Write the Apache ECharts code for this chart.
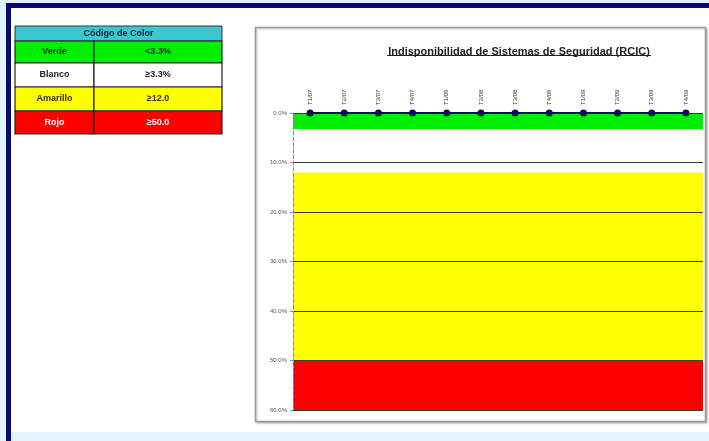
<!DOCTYPE html>
<html>
<head>
<meta charset="utf-8">
<script src="https://cdn.jsdelivr.net/npm/echarts@6/dist/echarts.min.js"></script>
<style>
  html, body { margin: 0; padding: 0; background: #e4f3fb; }
  #chart { width: 709px; height: 441px; }
</style>
</head>
<body>
<div id="chart"></div>
<script>
// Quarters on the horizontal axis
const quarters = ['T1/07', 'T2/07', 'T3/07', 'T4/07', 'T1/08', 'T2/08',
                  'T3/08', 'T4/08', 'T1/09', 'T2/09', 'T3/09', 'T4/09'];
// Unavailability per quarter (%)
const unavailability = [0, 0, 0, 0, 0, 0, 0, 0, 0, 0, 0, 0];
// Colour-code zones (%): names, limits, lower and upper bounds
const zoneNames = ['Verde', 'Blanco', 'Amarillo', 'Rojo'];
const zoneLimits = ['<3.3%', '\u22653.3%', '\u226512.0', '\u226550.0'];
const zoneFrom = [0, 3.3, 12, 50];
const zoneTo = [3.3, 12, 50, 60];
// Y-axis range and step (%)
const yMin = 0, yMax = 60, yStep = 10;

const zoneFill = ['#00ee00', '#ffffff', '#ffff00', '#ff0000'];
const zoneText = ['#1a3a1a', '#222222', '#3a3000', '#ffffff'];
const FONT = '"Liberation Sans Narrow", "Arial Narrow", "Liberation Sans", Arial, sans-serif';

const chart = echarts.init(document.getElementById('chart'));

// Colour-code table at the top left
const tbl = { x: 15, w: 207, split: 94 };
const rowTops = [41, 63, 87, 111];
const rowHeights = [22, 24, 24, 23];
const tableGraphics = [
  { type: 'rect', shape: { x: tbl.x, y: 26, width: tbl.w, height: 15 },
    style: { fill: '#3cc6cf', stroke: '#333', lineWidth: 1 } },
  { type: 'text', x: tbl.x + tbl.w / 2, y: 33.5,
    style: { text: 'Código de Color', fill: '#123', font: 'bold 9px ' + FONT,
             align: 'center', verticalAlign: 'middle' } }
];
zoneNames.forEach((name, i) => {
  const h = rowHeights[i];
  tableGraphics.push(
    { type: 'rect', shape: { x: tbl.x, y: rowTops[i], width: tbl.split - tbl.x, height: h },
      style: { fill: zoneFill[i], stroke: '#222', lineWidth: 1.2 } },
    { type: 'rect', shape: { x: tbl.split, y: rowTops[i], width: tbl.x + tbl.w - tbl.split, height: h },
      style: { fill: zoneFill[i], stroke: '#222', lineWidth: 1.2 } },
    { type: 'text', x: (tbl.x + tbl.split) / 2, y: rowTops[i] + h / 2,
      style: { text: name, fill: zoneText[i], font: 'bold 9px ' + FONT,
               align: 'center', verticalAlign: 'middle' } },
    { type: 'text', x: (tbl.split + tbl.x + tbl.w) / 2, y: rowTops[i] + h / 2,
      style: { text: zoneLimits[i], fill: zoneText[i], font: 'bold 9px ' + FONT,
               align: 'center', verticalAlign: 'middle' } }
  );
});

const option = {
  backgroundColor: 'transparent',
  animation: false,
  graphic: [
    // white page with a navy frame on the left and top
    { type: 'rect', z: -10, shape: { x: 6, y: 3, width: 710, height: 429 },
      style: { fill: '#ffffff' } },
    { type: 'rect', z: -9, shape: { x: 6, y: 3, width: 5, height: 440 },
      style: { fill: '#0a0a6e' } },
    { type: 'rect', z: -9, shape: { x: 6, y: 3, width: 710, height: 5 },
      style: { fill: '#0a0a6e' } },
    // chart panel border
    { type: 'rect', z: -8, shape: { x: 255.5, y: 27.5, width: 450, height: 394 },
      style: { fill: '#ffffff', stroke: '#9a9a9a', lineWidth: 1.5,
               shadowColor: 'rgba(0,0,0,0.25)', shadowBlur: 2, shadowOffsetX: 1, shadowOffsetY: 1 } },
    // title underline
    { type: 'line', shape: { x1: 387, y1: 55.5, x2: 651, y2: 55.5 },
      style: { stroke: '#222', lineWidth: 1 } }
  ].concat(tableGraphics),
  title: {
    text: 'Indisponibilidad de Sistemas de Seguridad (RCIC)',
    left: 514, top: 41, textAlign: 'center',
    textStyle: { fontFamily: FONT, fontWeight: 'bold', fontSize: 11, color: '#222' }
  },
  grid: { left: 293, right: 6, top: 113, bottom: 31 },
  xAxis: {
    type: 'category',
    position: 'top',
    data: quarters,
    boundaryGap: true,
    axisLine: { show: false },
    axisTick: { show: false },
    axisLabel: { rotate: 90, fontSize: 6, color: '#333', margin: 8, fontFamily: FONT },
    splitLine: { show: false }
  },
  yAxis: {
    type: 'value',
    inverse: true,
    min: yMin, max: yMax, interval: yStep,
    z: 4,
    axisLine: { show: true, lineStyle: { color: '#8a8a9a', type: 'dashed', width: 1 } },
    axisTick: { show: true, length: 3, lineStyle: { color: '#8a8a9a' } },
    axisLabel: { fontSize: 6, color: '#555', margin: 6, fontFamily: FONT,
                 formatter: v => v.toFixed(1) + '%' },
    splitLine: { show: true, lineStyle: { color: '#3a3a2a', width: 1 } }
  },
  series: [
    {
      type: 'line',
      z: 1,
      data: [],
      silent: true,
      markArea: {
        silent: true,
        z: 1,
        data: zoneFrom.map((from, i) => [
          { yAxis: from, itemStyle: { color: zoneFill[i], opacity: 1 } },
          { yAxis: zoneTo[i] }
        ])
      }
    },
    {
      type: 'line',
      z: 6,
      data: unavailability,
      symbol: 'circle',
      symbolSize: 7,
      lineStyle: { color: '#0b0b5e', width: 2 },
      itemStyle: { color: '#0b0b5e' }
    }
  ]
};
chart.setOption(option);
</script>
</body>
</html>
